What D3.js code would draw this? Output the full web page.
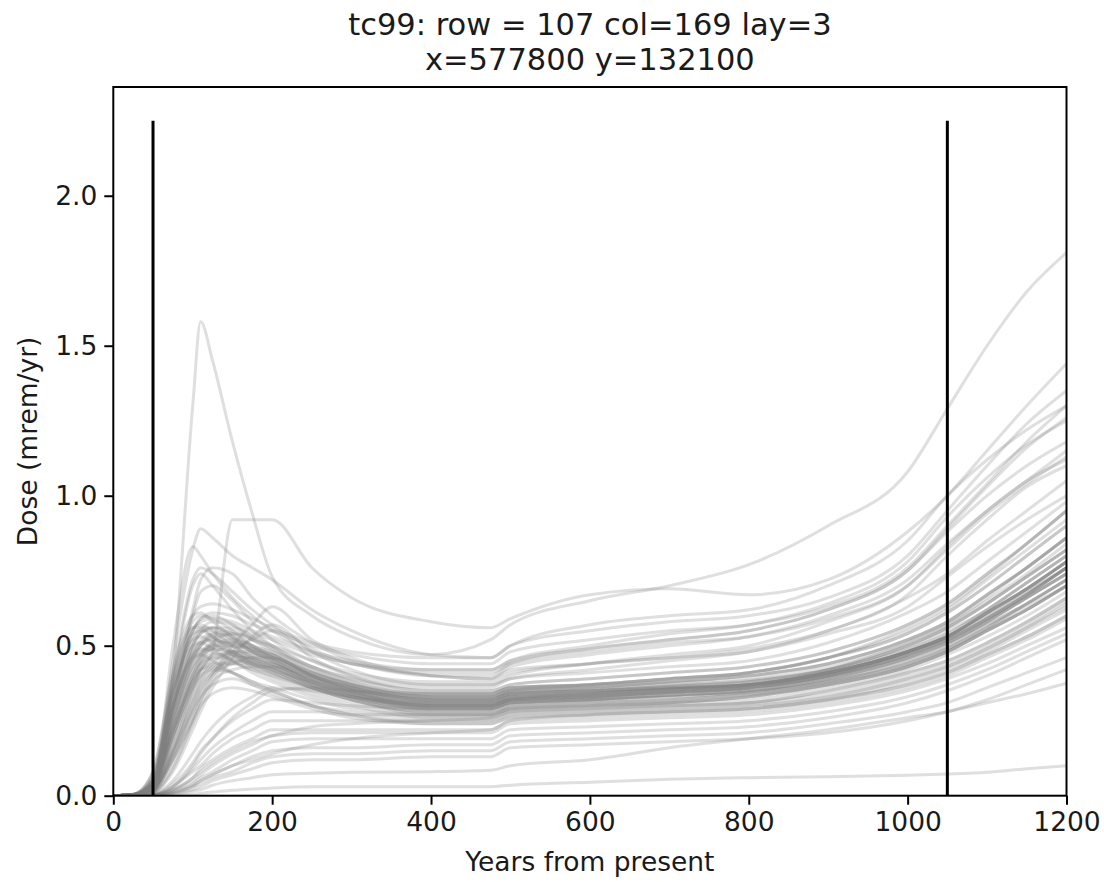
<!DOCTYPE html>
<html><head><meta charset="utf-8">
<script src="https://cdn.jsdelivr.net/npm/d3@7"></script>
<style>body{margin:0;background:#fff} text{font-family:"DejaVu Sans",sans-serif}</style>
</head><body><svg id="c" width="1104" height="882"></svg>
<script>
// ---- data ----
const years = [0,25,50,75,100,110,125,150,175,200,250,300,400,475,500,600,700,800,900,1000,1050,1100,1150,1200];
const titleLines = ["tc99: row = 107 col=169 lay=3", "x=577800 y=132100"];
const xLabel = "Years from present";
const yLabel = "Dose (mrem/yr)";
const xTicks = [0,200,400,600,800,1000,1200];
const yTicks = [0,0.5,1.0,1.5,2.0];
const markerYears = [50,1050];
const markerTop = 2.25;

const doseHigh = [
[0,0,0.03,0.40,1.30,1.58,1.45,1.18,0.94,0.73,0.60,0.53,0.47,0.52,0.57,0.65,0.70,0.77,0.90,1.08,1.29,1.50,1.68,1.81],
[0,0,0.01,0.15,0.35,0.42,0.48,0.92,0.92,0.92,0.76,0.66,0.58,0.56,0.59,0.67,0.69,0.67,0.72,0.88,1.00,1.15,1.30,1.44],
[0,0,0.02,0.45,0.82,0.89,0.86,0.80,0.76,0.72,0.62,0.55,0.47,0.46,0.50,0.57,0.60,0.62,0.70,0.85,1.00,1.12,1.22,1.30],
[0,0,0.03,0.50,0.83,0.80,0.74,0.66,0.60,0.55,0.48,0.44,0.42,0.42,0.45,0.50,0.54,0.57,0.64,0.78,0.93,1.06,1.17,1.25],
[0,0,0.02,0.40,0.72,0.76,0.74,0.68,0.62,0.57,0.49,0.44,0.41,0.41,0.44,0.49,0.52,0.55,0.62,0.75,0.88,1.00,1.10,1.18],
[0,0,0.01,0.30,0.62,0.72,0.76,0.74,0.66,0.60,0.51,0.45,0.40,0.39,0.43,0.47,0.50,0.53,0.60,0.72,0.84,0.95,1.05,1.12],
[0,0,0.02,0.38,0.70,0.74,0.70,0.62,0.55,0.50,0.43,0.39,0.36,0.36,0.39,0.42,0.45,0.48,0.55,0.67,0.80,0.92,1.03,1.10],
[0,0,0.01,0.28,0.60,0.68,0.70,0.65,0.58,0.52,0.45,0.40,0.37,0.37,0.40,0.44,0.47,0.50,0.58,0.70,0.83,0.95,1.05,1.15]
];
const doseUpper = [
[0,0.003,0.05,0.38,0.60,0.63,0.64,0.62,0.59,0.56,0.51,0.48,0.46,0.46,0.50,0.55,0.58,0.60,0.66,0.80,0.95,1.10,1.24,1.35],
[0,0.002,0.04,0.33,0.55,0.59,0.61,0.60,0.57,0.55,0.50,0.47,0.44,0.44,0.48,0.52,0.55,0.57,0.63,0.76,0.90,1.04,1.18,1.30],
[0,0.003,0.05,0.35,0.55,0.58,0.59,0.58,0.55,0.53,0.48,0.45,0.42,0.42,0.45,0.49,0.52,0.55,0.62,0.75,0.89,1.03,1.16,1.26],
[0,0.002,0.04,0.30,0.50,0.54,0.56,0.56,0.54,0.52,0.47,0.44,0.40,0.40,0.44,0.48,0.51,0.53,0.59,0.70,0.82,0.94,1.04,1.13],
[0,0.002,0.03,0.25,0.46,0.50,0.53,0.54,0.52,0.50,0.45,0.41,0.38,0.38,0.41,0.44,0.46,0.48,0.54,0.63,0.73,0.83,0.92,1.00]
];
const doseMid = [
[0,0.005,0.08,0.42,0.60,0.61,0.58,0.53,0.48,0.45,0.39,0.35,0.31,0.31,0.33,0.34,0.355,0.37,0.41,0.48,0.53,0.61,0.69,0.78],
[0,0.005,0.06,0.38,0.58,0.60,0.59,0.55,0.50,0.46,0.40,0.36,0.32,0.32,0.34,0.35,0.365,0.38,0.42,0.50,0.56,0.64,0.73,0.82],
[0,0.004,0.04,0.33,0.55,0.59,0.60,0.57,0.52,0.48,0.41,0.37,0.33,0.33,0.35,0.36,0.38,0.40,0.44,0.52,0.58,0.67,0.76,0.86],
[0,0.003,0.03,0.28,0.50,0.55,0.58,0.57,0.53,0.49,0.42,0.38,0.34,0.34,0.36,0.37,0.39,0.41,0.46,0.54,0.61,0.70,0.80,0.90],
[0,0.004,0.07,0.36,0.56,0.57,0.55,0.50,0.46,0.43,0.37,0.33,0.29,0.29,0.31,0.32,0.335,0.35,0.39,0.46,0.51,0.58,0.66,0.74],
[0,0.003,0.04,0.30,0.50,0.54,0.56,0.54,0.50,0.47,0.40,0.36,0.32,0.32,0.34,0.35,0.36,0.37,0.41,0.48,0.53,0.60,0.68,0.76],
[0,0.002,0.03,0.24,0.45,0.50,0.54,0.55,0.52,0.49,0.42,0.37,0.33,0.33,0.35,0.36,0.37,0.385,0.42,0.49,0.55,0.62,0.71,0.80],
[0,0.002,0.02,0.20,0.40,0.46,0.51,0.54,0.53,0.50,0.43,0.38,0.34,0.34,0.36,0.37,0.38,0.40,0.44,0.52,0.58,0.67,0.76,0.86],
[0,0.004,0.05,0.35,0.52,0.53,0.51,0.47,0.43,0.40,0.35,0.32,0.28,0.28,0.30,0.31,0.32,0.34,0.38,0.44,0.49,0.56,0.64,0.72],
[0,0.003,0.04,0.30,0.48,0.51,0.52,0.50,0.46,0.43,0.37,0.33,0.29,0.29,0.31,0.32,0.335,0.35,0.39,0.46,0.51,0.58,0.66,0.74],
[0,0.002,0.03,0.25,0.43,0.47,0.50,0.50,0.47,0.44,0.38,0.34,0.30,0.30,0.32,0.33,0.345,0.36,0.40,0.47,0.52,0.59,0.67,0.76],
[0,0.002,0.02,0.18,0.36,0.42,0.47,0.50,0.49,0.47,0.40,0.36,0.32,0.32,0.34,0.35,0.365,0.38,0.42,0.50,0.56,0.64,0.73,0.82],
[0,0.003,0.04,0.30,0.47,0.49,0.48,0.45,0.41,0.38,0.33,0.30,0.26,0.26,0.28,0.29,0.30,0.31,0.35,0.41,0.45,0.51,0.58,0.66],
[0,0.002,0.03,0.22,0.40,0.44,0.46,0.46,0.43,0.41,0.36,0.32,0.28,0.28,0.30,0.31,0.32,0.34,0.38,0.44,0.49,0.56,0.64,0.72],
[0,0.001,0.02,0.15,0.32,0.38,0.43,0.46,0.46,0.44,0.38,0.34,0.30,0.30,0.32,0.33,0.345,0.36,0.40,0.47,0.52,0.59,0.67,0.76],
[0,0.001,0.015,0.12,0.28,0.34,0.40,0.44,0.46,0.46,0.40,0.36,0.32,0.32,0.34,0.35,0.36,0.37,0.41,0.48,0.53,0.61,0.69,0.78],
[0,0.001,0.01,0.10,0.25,0.32,0.40,0.50,0.57,0.63,0.52,0.46,0.40,0.39,0.42,0.44,0.46,0.49,0.55,0.66,0.74,0.85,0.95,1.05],
[0,0.001,0.01,0.08,0.22,0.28,0.36,0.46,0.53,0.57,0.48,0.42,0.37,0.37,0.39,0.41,0.43,0.45,0.51,0.61,0.68,0.78,0.88,0.98],
[0,0.001,0.01,0.09,0.24,0.30,0.38,0.48,0.52,0.55,0.46,0.40,0.35,0.35,0.37,0.39,0.41,0.43,0.48,0.57,0.64,0.74,0.84,0.95],
[0,0.002,0.03,0.26,0.44,0.48,0.50,0.48,0.44,0.41,0.36,0.32,0.28,0.28,0.30,0.31,0.32,0.335,0.37,0.43,0.48,0.55,0.62,0.70],
[0,0.003,0.04,0.28,0.46,0.50,0.52,0.51,0.48,0.45,0.39,0.35,0.31,0.31,0.33,0.34,0.355,0.37,0.41,0.48,0.53,0.61,0.69,0.78],
[0,0.002,0.03,0.24,0.42,0.46,0.49,0.48,0.45,0.42,0.37,0.33,0.29,0.29,0.31,0.32,0.335,0.35,0.39,0.46,0.51,0.58,0.66,0.74],
[0,0.003,0.06,0.34,0.53,0.56,0.56,0.53,0.49,0.46,0.40,0.36,0.32,0.32,0.34,0.35,0.365,0.38,0.42,0.50,0.56,0.64,0.73,0.82],
[0,0.002,0.03,0.22,0.40,0.45,0.50,0.52,0.50,0.47,0.41,0.37,0.33,0.33,0.35,0.36,0.38,0.40,0.44,0.52,0.58,0.67,0.76,0.86],
[0,0.002,0.02,0.18,0.35,0.40,0.45,0.47,0.46,0.44,0.38,0.34,0.30,0.30,0.32,0.33,0.345,0.36,0.40,0.47,0.52,0.59,0.67,0.76],
[0,0.001,0.02,0.14,0.30,0.36,0.41,0.44,0.44,0.43,0.37,0.33,0.29,0.29,0.31,0.32,0.33,0.345,0.38,0.45,0.50,0.57,0.64,0.72],
[0,0.004,0.08,0.40,0.56,0.56,0.53,0.48,0.44,0.41,0.36,0.33,0.30,0.30,0.32,0.33,0.345,0.36,0.40,0.48,0.54,0.62,0.71,0.80],
[0,0.003,0.05,0.34,0.50,0.51,0.49,0.45,0.42,0.39,0.34,0.31,0.27,0.27,0.29,0.30,0.31,0.33,0.37,0.43,0.48,0.55,0.62,0.70],
[0,0.002,0.03,0.20,0.37,0.42,0.46,0.48,0.47,0.46,0.41,0.37,0.34,0.34,0.36,0.37,0.39,0.41,0.46,0.54,0.61,0.70,0.80,0.90],
[0,0.001,0.02,0.12,0.26,0.32,0.38,0.42,0.43,0.43,0.39,0.35,0.31,0.31,0.33,0.34,0.355,0.37,0.41,0.48,0.53,0.61,0.69,0.78],
[0,0.002,0.04,0.28,0.45,0.48,0.49,0.47,0.44,0.42,0.38,0.35,0.33,0.33,0.35,0.37,0.39,0.41,0.46,0.56,0.63,0.73,0.84,0.95],
[0,0.002,0.03,0.22,0.38,0.42,0.44,0.44,0.42,0.40,0.36,0.33,0.30,0.30,0.32,0.34,0.355,0.37,0.42,0.51,0.57,0.66,0.76,0.86],
[0,0.003,0.04,0.32,0.52,0.55,0.55,0.52,0.48,0.45,0.39,0.35,0.31,0.31,0.33,0.34,0.355,0.37,0.41,0.48,0.53,0.60,0.68,0.76],
[0,0.002,0.03,0.26,0.47,0.51,0.53,0.52,0.49,0.46,0.40,0.36,0.32,0.32,0.34,0.35,0.36,0.37,0.41,0.48,0.53,0.61,0.69,0.78],
[0,0.002,0.02,0.19,0.38,0.44,0.49,0.51,0.49,0.46,0.40,0.35,0.30,0.30,0.32,0.33,0.345,0.36,0.40,0.46,0.51,0.58,0.66,0.74],
[0,0.001,0.02,0.16,0.33,0.39,0.44,0.48,0.48,0.47,0.41,0.37,0.33,0.33,0.35,0.36,0.375,0.39,0.43,0.51,0.57,0.65,0.74,0.84],
[0,0.003,0.05,0.36,0.54,0.55,0.53,0.49,0.45,0.42,0.37,0.34,0.30,0.30,0.32,0.33,0.345,0.36,0.40,0.47,0.52,0.59,0.67,0.76],
[0,0.002,0.03,0.23,0.42,0.47,0.51,0.51,0.48,0.45,0.38,0.34,0.29,0.29,0.31,0.32,0.33,0.345,0.38,0.44,0.49,0.56,0.63,0.70],
[0,0.001,0.015,0.13,0.29,0.35,0.41,0.45,0.45,0.44,0.39,0.35,0.31,0.31,0.33,0.34,0.355,0.37,0.41,0.49,0.54,0.62,0.71,0.80],
[0,0.002,0.04,0.29,0.48,0.52,0.54,0.53,0.50,0.48,0.43,0.39,0.35,0.35,0.37,0.39,0.41,0.43,0.48,0.57,0.64,0.74,0.84,0.95],
[0,0.001,0.02,0.15,0.31,0.37,0.42,0.45,0.44,0.42,0.36,0.32,0.27,0.27,0.29,0.30,0.31,0.32,0.36,0.42,0.47,0.53,0.60,0.68],
[0,0.002,0.03,0.21,0.39,0.44,0.47,0.47,0.45,0.43,0.38,0.34,0.30,0.30,0.32,0.33,0.345,0.36,0.40,0.47,0.52,0.59,0.67,0.76],
[0,0.002,0.03,0.20,0.36,0.40,0.42,0.41,0.38,0.35,0.30,0.27,0.24,0.24,0.26,0.27,0.28,0.29,0.32,0.38,0.42,0.48,0.55,0.62],
[0,0.001,0.02,0.14,0.28,0.33,0.37,0.39,0.37,0.35,0.30,0.27,0.25,0.25,0.27,0.28,0.29,0.30,0.33,0.39,0.43,0.49,0.56,0.63],
[0,0.003,0.05,0.30,0.46,0.47,0.45,0.41,0.37,0.34,0.30,0.28,0.26,0.26,0.28,0.29,0.30,0.31,0.35,0.41,0.45,0.51,0.58,0.66],
[0,0.002,0.03,0.22,0.38,0.42,0.43,0.41,0.38,0.36,0.32,0.29,0.27,0.27,0.29,0.30,0.31,0.33,0.37,0.43,0.48,0.55,0.62,0.70],
[0,0.001,0.02,0.12,0.25,0.30,0.34,0.36,0.35,0.33,0.29,0.26,0.24,0.24,0.26,0.27,0.28,0.29,0.32,0.37,0.41,0.47,0.53,0.60]
];
const doseLow = [
[0,0,0.005,0.05,0.14,0.18,0.23,0.29,0.33,0.36,0.35,0.33,0.31,0.31,0.33,0.34,0.355,0.37,0.41,0.48,0.53,0.61,0.69,0.78],
[0,0,0.004,0.04,0.11,0.15,0.19,0.25,0.29,0.32,0.31,0.30,0.29,0.29,0.31,0.32,0.335,0.35,0.39,0.45,0.50,0.57,0.64,0.72],
[0,0,0.003,0.03,0.09,0.12,0.16,0.21,0.25,0.28,0.28,0.27,0.27,0.27,0.29,0.30,0.31,0.33,0.37,0.43,0.48,0.55,0.62,0.70],
[0,0,0.003,0.03,0.08,0.10,0.14,0.19,0.22,0.25,0.25,0.25,0.25,0.25,0.27,0.28,0.29,0.30,0.33,0.39,0.43,0.49,0.56,0.64],
[0,0,0.002,0.02,0.06,0.09,0.12,0.16,0.19,0.22,0.22,0.22,0.22,0.22,0.25,0.26,0.27,0.28,0.31,0.36,0.40,0.46,0.52,0.59],
[0,0,0.002,0.02,0.05,0.07,0.10,0.14,0.17,0.20,0.21,0.21,0.21,0.21,0.24,0.25,0.26,0.27,0.30,0.35,0.39,0.44,0.50,0.56],
[0,0,0.001,0.015,0.04,0.06,0.08,0.12,0.15,0.18,0.19,0.19,0.19,0.19,0.22,0.23,0.24,0.25,0.28,0.33,0.37,0.42,0.48,0.54],
[0,0,0.001,0.01,0.03,0.05,0.07,0.10,0.13,0.15,0.16,0.16,0.17,0.17,0.20,0.21,0.22,0.23,0.26,0.31,0.35,0.40,0.46,0.52],
[0,0,0.001,0.01,0.03,0.04,0.06,0.08,0.11,0.13,0.14,0.14,0.15,0.15,0.18,0.19,0.20,0.21,0.24,0.28,0.31,0.36,0.41,0.46],
[0,0,0,0.008,0.02,0.03,0.05,0.07,0.09,0.11,0.12,0.12,0.13,0.13,0.16,0.17,0.18,0.19,0.21,0.25,0.28,0.32,0.37,0.42],
[0,0,0,0.005,0.015,0.02,0.035,0.05,0.06,0.07,0.075,0.078,0.08,0.085,0.10,0.12,0.16,0.19,0.22,0.26,0.28,0.31,0.34,0.375],
[0,0,0,0.002,0.005,0.008,0.012,0.018,0.022,0.026,0.03,0.03,0.03,0.03,0.035,0.045,0.055,0.06,0.063,0.068,0.072,0.078,0.09,0.10],
[0,0,0.002,0.02,0.06,0.08,0.11,0.15,0.18,0.20,0.23,0.24,0.25,0.26,0.28,0.29,0.30,0.31,0.34,0.40,0.44,0.50,0.57,0.65],
[0,0,0.001,0.012,0.035,0.05,0.07,0.10,0.12,0.14,0.17,0.19,0.21,0.22,0.25,0.27,0.28,0.29,0.32,0.37,0.41,0.47,0.53,0.60],
[0,0,0.003,0.03,0.10,0.14,0.19,0.26,0.31,0.35,0.36,0.35,0.34,0.34,0.36,0.37,0.39,0.41,0.46,0.55,0.62,0.72,0.82,0.92]
];

// ---- chart ----
const svg = d3.select("#c");
const m = {l:113.3, r:1066.5, t:87, b:795.7};
const x = d3.scaleLinear().domain([0,1200]).range([m.l, m.r]);
const y = d3.scaleLinear().domain([0, 2.3625]).range([m.b, m.t]);
const FS = 26.5, TFS = 30.5, INK = "#1a1a1a";

svg.append("defs").append("clipPath").attr("id","clip")
  .append("rect").attr("x",m.l).attr("y",m.t).attr("width",m.r-m.l).attr("height",m.b-m.t);

const allSeries = [...doseLow, ...doseMid, ...doseUpper, ...doseHigh];
const line = d3.line().x((d,i)=>x(years[i])).y(d=>y(d)).curve(d3.curveMonotoneX);
svg.append("g").attr("clip-path","url(#clip)")
  .selectAll("path").data(allSeries).join("path")
  .attr("d", line).attr("fill","none")
  .attr("stroke","#808080").attr("stroke-opacity",0.25)
  .attr("stroke-width",3).attr("stroke-linejoin","round");

svg.append("g").selectAll("line").data(markerYears).join("line")
  .attr("x1",d=>x(d)).attr("x2",d=>x(d)).attr("y1",y(0)).attr("y2",y(markerTop))
  .attr("stroke","#000").attr("stroke-width",3);

const xa = svg.append("g").attr("transform",`translate(0,${m.b})`)
  .call(d3.axisBottom(x).tickValues(xTicks).tickSize(9).tickPadding(7).tickFormat(d3.format("d")));
const ya = svg.append("g").attr("transform",`translate(${m.l},0)`)
  .call(d3.axisLeft(y).tickValues(yTicks).tickSize(9).tickPadding(7).tickFormat(d3.format(".1f")));
[xa,ya].forEach(a=>{
  a.select(".domain").remove();
  a.selectAll(".tick line").attr("stroke","#000").attr("stroke-width",2);
  a.selectAll(".tick text").attr("fill",INK).style("font-size",FS+"px").style("font-family","'DejaVu Sans'");
});

svg.append("rect").attr("x",m.l).attr("y",m.t).attr("width",m.r-m.l).attr("height",m.b-m.t)
  .attr("fill","none").attr("stroke","#000").attr("stroke-width",2);

svg.append("text").attr("x",(m.l+m.r)/2).attr("y",871).attr("text-anchor","middle")
  .style("font-size",FS+"px").attr("fill",INK).text(xLabel);
svg.append("text").attr("transform",`translate(37,${(m.t+m.b)/2}) rotate(-90)`).attr("text-anchor","middle")
  .style("font-size",FS+"px").attr("fill",INK).text(yLabel);
svg.append("g").selectAll("text").data(titleLines).join("text")
  .attr("x",(m.l+m.r)/2).attr("y",(d,i)=>35+i*35).attr("text-anchor","middle")
  .style("font-size",TFS+"px").attr("fill",INK).text(d=>d);
</script></body></html>
